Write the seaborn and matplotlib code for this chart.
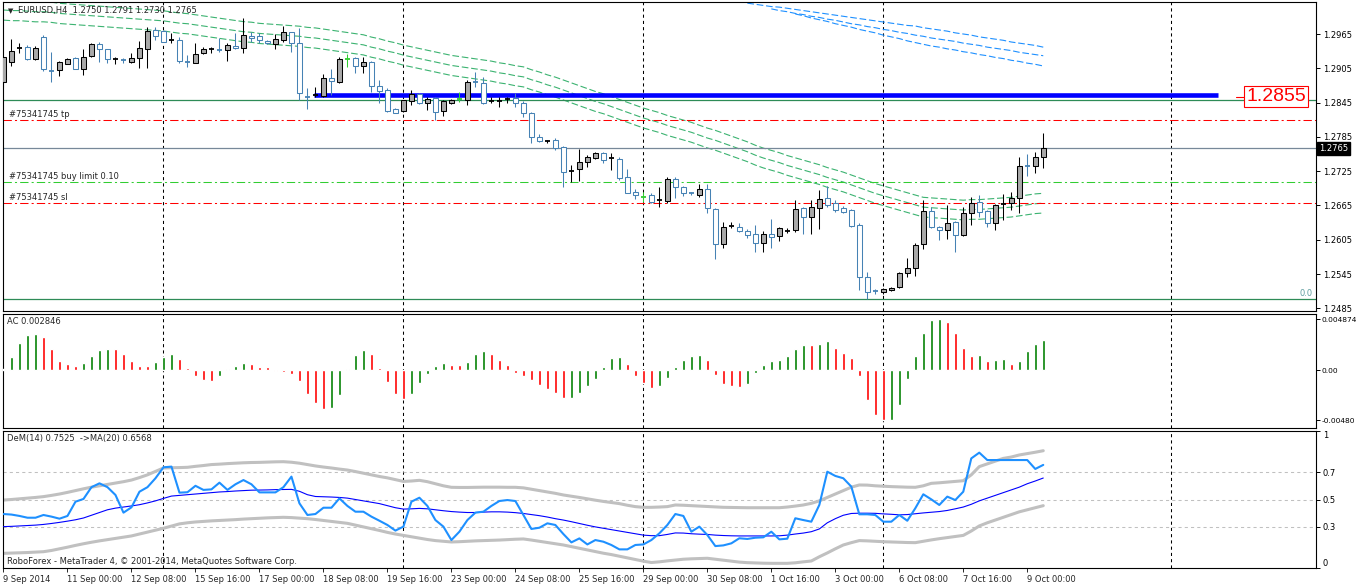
import numpy as np
import pandas as pd
import seaborn as sns
import matplotlib.pyplot as plt

# ---------------- data (EURUSD H4, one value per bar) ----------------
bar_idx = list(range(131))

opens = [1.2881, 1.2916, 1.2939, 1.2942, 1.2921, 1.2960, 1.2901, 1.2902, 1.2913, 1.2923,
         1.2904, 1.2926, 1.2948, 1.2938, 1.2920, 1.2921, 1.2916, 1.2923, 1.2939, 1.2972,
         1.2970, 1.2954, 1.2955, 1.2917, 1.2914, 1.2932, 1.2937, 1.2938, 1.2937, 1.2944,
         1.2940, 1.2962, 1.2962, 1.2953, 1.2948, 1.2955, 1.2968, 1.2949, 1.2856, 1.2857,
         1.2856, 1.2888, 1.2881, 1.2921, 1.2923, 1.2909, 1.2916, 1.2874, 1.2867, 1.2834,
         1.2830, 1.2848, 1.2860, 1.2844, 1.2853, 1.2830, 1.2844, 1.2851, 1.2849, 1.2882,
         1.2879, 1.2847, 1.2847, 1.2850, 1.2853, 1.2844, 1.2827, 1.2785, 1.2777, 1.2780,
         1.2767, 1.2724, 1.2729, 1.2741, 1.2748, 1.2757, 1.2747, 1.2746, 1.2715, 1.2689,
         1.2680, 1.2683, 1.2674, 1.2673, 1.2711, 1.2697, 1.2688, 1.2683, 1.2694, 1.2659,
         1.2598, 1.2628, 1.2627, 1.2620, 1.2615, 1.2599, 1.2615, 1.2611, 1.2620, 1.2622,
         1.2661, 1.2645, 1.2661, 1.2678, 1.2669, 1.2661, 1.2657, 1.2631, 1.2540, 1.2516,
         1.2514, 1.2517, 1.2522, 1.2547, 1.2555, 1.2598, 1.2655, 1.2627, 1.2622, 1.2636,
         1.2613, 1.2652, 1.2671, 1.2655, 1.2634, 1.2667, 1.2669, 1.2678, 1.2735, 1.2734,
         1.2750]
highs = [1.2925, 1.2956, 1.2949, 1.2946, 1.2944, 1.2963, 1.2934, 1.2918, 1.2923, 1.2924,
         1.2939, 1.2950, 1.2951, 1.2939, 1.2925, 1.2923, 1.2932, 1.2953, 1.2977, 1.2977,
         1.2972, 1.2967, 1.2960, 1.2928, 1.2949, 1.2942, 1.2942, 1.2958, 1.2949, 1.2967,
         1.2993, 1.2968, 1.2967, 1.2955, 1.2965, 1.2979, 1.2969, 1.2976, 1.2871, 1.2872,
         1.2895, 1.2904, 1.2925, 1.2930, 1.2925, 1.2925, 1.2917, 1.2884, 1.2871, 1.2836,
         1.2850, 1.2867, 1.2862, 1.2855, 1.2854, 1.2849, 1.2851, 1.2864, 1.2885, 1.2898,
         1.2890, 1.2855, 1.2855, 1.2855, 1.2862, 1.2848, 1.2828, 1.2790, 1.2780, 1.2783,
         1.2769, 1.2736, 1.2764, 1.2753, 1.2759, 1.2759, 1.2757, 1.2750, 1.2729, 1.2694,
         1.2689, 1.2687, 1.2697, 1.2715, 1.2715, 1.2699, 1.2689, 1.2703, 1.2703, 1.2661,
         1.2636, 1.2636, 1.2634, 1.2624, 1.2631, 1.2620, 1.2641, 1.2627, 1.2626, 1.2674,
         1.2662, 1.2674, 1.2692, 1.2699, 1.2674, 1.2664, 1.2658, 1.2634, 1.2549, 1.2519,
         1.2521, 1.2522, 1.2549, 1.2573, 1.2599, 1.2674, 1.2662, 1.2629, 1.2666, 1.2637,
         1.2662, 1.2680, 1.2683, 1.2657, 1.2667, 1.2685, 1.2689, 1.2750, 1.2755, 1.2759,
         1.2791]
lows = [1.2872, 1.2909, 1.2932, 1.2920, 1.2920, 1.2900, 1.2881, 1.2892, 1.2912, 1.2903,
        1.2893, 1.2925, 1.2916, 1.2914, 1.2913, 1.2914, 1.2914, 1.2906, 1.2906, 1.2955,
        1.2951, 1.2949, 1.2914, 1.2907, 1.2914, 1.2930, 1.2932, 1.2934, 1.2918, 1.2939,
        1.2932, 1.2951, 1.2949, 1.2947, 1.2939, 1.2951, 1.2934, 1.2850, 1.2834, 1.2855,
        1.2855, 1.2858, 1.2880, 1.2907, 1.2897, 1.2897, 1.2863, 1.2844, 1.2829, 1.2826,
        1.2829, 1.2841, 1.2842, 1.2832, 1.2815, 1.2821, 1.2842, 1.2846, 1.2841, 1.2872,
        1.2843, 1.2844, 1.2837, 1.2844, 1.2837, 1.2820, 1.2774, 1.2776, 1.2774, 1.2762,
        1.2697, 1.2706, 1.2708, 1.2732, 1.2747, 1.2739, 1.2727, 1.2710, 1.2686, 1.2676,
        1.2671, 1.2670, 1.2662, 1.2669, 1.2678, 1.2681, 1.2683, 1.2680, 1.2652, 1.2571,
        1.2590, 1.2625, 1.2618, 1.2608, 1.2583, 1.2583, 1.2590, 1.2603, 1.2617, 1.2618,
        1.2615, 1.2615, 1.2624, 1.2662, 1.2653, 1.2652, 1.2627, 1.2517, 1.2501, 1.2510,
        1.2510, 1.2515, 1.2521, 1.2540, 1.2541, 1.2589, 1.2625, 1.2604, 1.2606, 1.2583,
        1.2612, 1.2631, 1.2645, 1.2627, 1.2622, 1.2640, 1.2657, 1.2652, 1.2716, 1.2722,
        1.2730]
closes = [1.2925, 1.2935, 1.2940, 1.2921, 1.2940, 1.2904, 1.2900, 1.2916, 1.2921, 1.2904,
          1.2925, 1.2948, 1.2939, 1.2921, 1.2921, 1.2920, 1.2923, 1.2940, 1.2970, 1.2962,
          1.2951, 1.2955, 1.2918, 1.2916, 1.2930, 1.2939, 1.2938, 1.2937, 1.2946, 1.2940,
          1.2963, 1.2958, 1.2955, 1.2949, 1.2956, 1.2968, 1.2949, 1.2862, 1.2855, 1.2858,
          1.2888, 1.2883, 1.2921, 1.2921, 1.2909, 1.2916, 1.2874, 1.2865, 1.2830, 1.2827,
          1.2849, 1.2860, 1.2844, 1.2851, 1.2829, 1.2848, 1.2849, 1.2851, 1.2881, 1.2881,
          1.2844, 1.2848, 1.2848, 1.2851, 1.2844, 1.2827, 1.2785, 1.2778, 1.2778, 1.2766,
          1.2724, 1.2725, 1.2741, 1.2750, 1.2757, 1.2745, 1.2748, 1.2713, 1.2687, 1.2683,
          1.2680, 1.2671, 1.2675, 1.2711, 1.2697, 1.2687, 1.2687, 1.2694, 1.2661, 1.2598,
          1.2627, 1.2629, 1.2620, 1.2613, 1.2599, 1.2615, 1.2610, 1.2625, 1.2621, 1.2659,
          1.2645, 1.2662, 1.2676, 1.2666, 1.2657, 1.2654, 1.2629, 1.2540, 1.2514, 1.2515,
          1.2519, 1.2521, 1.2547, 1.2555, 1.2596, 1.2655, 1.2627, 1.2622, 1.2634, 1.2613,
          1.2652, 1.2669, 1.2654, 1.2634, 1.2666, 1.2668, 1.2678, 1.2734, 1.2734, 1.2750,
          1.2765]

# envelope (green) middle line
env_mid = [1.3007, 1.3006, 1.3006, 1.3005, 1.3004, 1.3004, 1.3003, 1.3001, 1.3000, 1.2999,
           1.2998, 1.2997, 1.2996, 1.2995, 1.2994, 1.2993, 1.2992, 1.2991, 1.2990, 1.2989,
           1.2988, 1.2986, 1.2984, 1.2983, 1.2981, 1.2979, 1.2977, 1.2975, 1.2973, 1.2971,
           1.2969, 1.2968, 1.2966, 1.2965, 1.2964, 1.2963, 1.2962, 1.2961, 1.2959, 1.2958,
           1.2956, 1.2954, 1.2952, 1.2950, 1.2948, 1.2946, 1.2942, 1.2939, 1.2935, 1.2932,
           1.2928, 1.2925, 1.2922, 1.2919, 1.2916, 1.2913, 1.2910, 1.2908, 1.2906, 1.2904,
           1.2902, 1.2900, 1.2897, 1.2895, 1.2892, 1.2890, 1.2885, 1.2881, 1.2876, 1.2872,
           1.2867, 1.2862, 1.2857, 1.2852, 1.2847, 1.2843, 1.2838, 1.2833, 1.2828, 1.2823,
           1.2818, 1.2814, 1.2810, 1.2805, 1.2801, 1.2797, 1.2793, 1.2788, 1.2783, 1.2779,
           1.2774, 1.2769, 1.2764, 1.2759, 1.2753, 1.2748, 1.2744, 1.2740, 1.2735, 1.2731,
           1.2727, 1.2723, 1.2719, 1.2714, 1.2710, 1.2706, 1.2701, 1.2696, 1.2691, 1.2686,
           1.2682, 1.2678, 1.2674, 1.2670, 1.2666, 1.2662, 1.2661, 1.2660, 1.2659, 1.2658,
           1.2657, 1.2658, 1.2658, 1.2659, 1.2660, 1.2661, 1.2662, 1.2664, 1.2666, 1.2668,
           1.2669]
env_dev = 0.00136

# blue channel (three lines, each starting at its own bar)
blue_top_start = 93
blue_top = [1.3019, 1.3017, 1.3015, 1.3013, 1.3012, 1.3010, 1.3008, 1.3006, 1.3004, 1.3002,
            1.3000, 1.2998, 1.2996, 1.2994, 1.2992, 1.2990, 1.2988, 1.2986, 1.2984, 1.2982,
            1.2980, 1.2979, 1.2976, 1.2974, 1.2972, 1.2970, 1.2967, 1.2965, 1.2963, 1.2960,
            1.2958, 1.2956, 1.2954, 1.2951, 1.2949, 1.2947, 1.2945, 1.2942]
blue_mid_start = 96
blue_mid = [1.3009, 1.3006, 1.3004, 1.3001, 1.2999, 1.2996, 1.2994, 1.2991, 1.2989, 1.2986,
            1.2983, 1.2981, 1.2978, 1.2976, 1.2973, 1.2971, 1.2968, 1.2966, 1.2963, 1.2961,
            1.2958, 1.2956, 1.2954, 1.2952, 1.2949, 1.2947, 1.2945, 1.2942, 1.2940, 1.2938,
            1.2936, 1.2933, 1.2931, 1.2929, 1.2927]
blue_low_start = 99
blue_low = [1.3000, 1.2997, 1.2993, 1.2990, 1.2987, 1.2983, 1.2980, 1.2977, 1.2973, 1.2970,
            1.2967, 1.2963, 1.2960, 1.2957, 1.2953, 1.2950, 1.2947, 1.2944, 1.2942, 1.2939,
            1.2937, 1.2934, 1.2932, 1.2929, 1.2927, 1.2924, 1.2922, 1.2919, 1.2917, 1.2914,
            1.2912, 1.2909]

# Accelerator oscillator
ac_values = [0.0001, 0.00128, 0.00262, 0.00336, 0.00346, 0.0032, 0.00198, 0.00086, 0.00058, 0.00038,
             0.0007, 0.00134, 0.00195, 0.00201, 0.00198, 0.00154, 0.00086, 0.00038, 0.00036, 0.0008,
             0.00128, 0.00154, 0.00106, 0.00022, -0.00054, -0.00096, -0.00102, -0.00054, 0.00013, 0.00038,
             0.0007, 0.00058, 0.00032, 0.0003, -0.00006, -0.00016, -0.00038, -0.00106, -0.00234, -0.00314,
             -0.00374, -0.00362, -0.0024, 0.00013, 0.00144, 0.00192, 0.00154, 0.00022, -0.00118, -0.0023,
             -0.00278, -0.0023, -0.00122, -0.00038, 0.00038, 0.0007, 0.00048, 0.00045, 0.0008, 0.00154,
             0.00186, 0.00154, 0.00096, 0.00048, -0.00026, -0.00054, -0.00096, -0.00144, -0.00186, -0.00224,
             -0.00266, -0.00264, -0.00218, -0.00154, -0.00086, 0.00026, 0.00112, 0.00122, 0.00054, -0.00058,
             -0.00128, -0.0017, -0.0015, -0.00074, 0.00026, 0.001, 0.00134, 0.0014, 0.001, -0.0005,
             -0.00138, -0.00154, -0.00163, -0.00138, -0.0003, 0.00045, 0.00083, 0.00093, 0.0013, 0.002,
             0.00237, 0.00235, 0.0025, 0.00275, 0.00214, 0.00166, 0.00115, -0.00058, -0.00291, -0.0043,
             -0.0048, -0.00475, -0.0033, -0.0009, 0.0013, 0.0035, 0.0048, 0.004874, 0.00454, 0.0035,
             0.00211, 0.0013, 0.0014, 0.00083, 0.001, 0.00102, 0.0006, 0.00083, 0.0018, 0.0025,
             0.002846]

# DeMarker(14), its MA(20) and envelope bands
dem_values = [0.394, 0.39, 0.38, 0.367, 0.367, 0.387, 0.375, 0.36, 0.38, 0.484,
              0.504, 0.59, 0.618, 0.59, 0.533, 0.404, 0.443, 0.557, 0.59, 0.655,
              0.735, 0.74, 0.55, 0.553, 0.6, 0.57, 0.574, 0.623, 0.57, 0.611,
              0.642, 0.611, 0.552, 0.552, 0.552, 0.59, 0.667, 0.472, 0.387, 0.394,
              0.44, 0.44, 0.508, 0.453, 0.411, 0.411, 0.375, 0.345, 0.314, 0.273,
              0.302, 0.484, 0.513, 0.453, 0.35, 0.302, 0.204, 0.265, 0.35, 0.404,
              0.411, 0.453, 0.489, 0.496, 0.489, 0.387, 0.285, 0.294, 0.326, 0.314,
              0.248, 0.187, 0.216, 0.172, 0.204, 0.192, 0.168, 0.136, 0.136, 0.168,
              0.172, 0.204, 0.253, 0.314, 0.394, 0.38, 0.265, 0.302, 0.241, 0.16,
              0.165, 0.18, 0.217, 0.212, 0.221, 0.224, 0.265, 0.209, 0.214, 0.363,
              0.35, 0.338, 0.46, 0.703, 0.672, 0.655, 0.594, 0.392, 0.392, 0.387,
              0.338, 0.338, 0.387, 0.345, 0.436, 0.538, 0.501, 0.46, 0.521, 0.496,
              0.557, 0.8, 0.842, 0.788, 0.788, 0.788, 0.788, 0.788, 0.788, 0.723,
              0.7525]
dem_ma = [0.302, 0.304, 0.307, 0.310, 0.313, 0.318, 0.325, 0.333, 0.342, 0.352,
          0.365, 0.385, 0.405, 0.425, 0.437, 0.445, 0.453, 0.462, 0.475, 0.49,
          0.508, 0.525, 0.53, 0.535, 0.54, 0.545, 0.55, 0.555, 0.558, 0.562,
          0.565, 0.568, 0.569, 0.57, 0.572, 0.573, 0.574, 0.56, 0.535, 0.522,
          0.52, 0.518, 0.515, 0.51, 0.5, 0.49, 0.48, 0.47, 0.455, 0.44,
          0.43, 0.432, 0.435, 0.432, 0.425, 0.418, 0.412, 0.408, 0.405, 0.405,
          0.408, 0.41, 0.41, 0.408, 0.404, 0.398, 0.39, 0.382, 0.372, 0.36,
          0.35, 0.338, 0.325, 0.312, 0.3, 0.29, 0.28, 0.27, 0.26, 0.25,
          0.24, 0.236, 0.236, 0.245, 0.256, 0.255, 0.25, 0.247, 0.245, 0.24,
          0.237, 0.235, 0.234, 0.234, 0.234, 0.234, 0.234, 0.235, 0.24, 0.248,
          0.255, 0.265, 0.285, 0.33, 0.36, 0.385, 0.398, 0.4, 0.4, 0.399,
          0.395, 0.392, 0.388, 0.39, 0.396, 0.402, 0.407, 0.412, 0.42, 0.432,
          0.445, 0.465, 0.49, 0.51, 0.53, 0.55, 0.57, 0.59, 0.615, 0.635,
          0.6568]
dem_upper = [0.496, 0.5, 0.505, 0.51, 0.515, 0.521, 0.53, 0.54, 0.552, 0.565,
             0.578, 0.59, 0.6, 0.61, 0.62, 0.63, 0.642, 0.66, 0.68, 0.705,
             0.73, 0.732, 0.733, 0.735, 0.742, 0.748, 0.755, 0.758, 0.762, 0.765,
             0.768, 0.77, 0.771, 0.773, 0.775, 0.776, 0.772, 0.765, 0.755, 0.745,
             0.737, 0.73, 0.722, 0.715, 0.704, 0.692, 0.68, 0.668, 0.658, 0.645,
             0.632, 0.635, 0.64, 0.63, 0.615, 0.6, 0.589, 0.588, 0.588, 0.589,
             0.59, 0.59, 0.59, 0.589, 0.589, 0.585, 0.575, 0.565, 0.555, 0.545,
             0.533, 0.524, 0.515, 0.505, 0.495, 0.486, 0.478, 0.47, 0.458, 0.448,
             0.443, 0.443, 0.445, 0.448, 0.46, 0.458, 0.455, 0.452, 0.449, 0.446,
             0.443, 0.442, 0.441, 0.44, 0.44, 0.44, 0.44, 0.44, 0.445, 0.452,
             0.46, 0.472, 0.49, 0.515, 0.54, 0.565, 0.59, 0.606, 0.605, 0.6,
             0.597, 0.594, 0.592, 0.59, 0.589, 0.6, 0.618, 0.622, 0.627, 0.632,
             0.637, 0.68, 0.74, 0.76, 0.78, 0.8, 0.81, 0.825, 0.835, 0.845,
             0.856]
dem_lower = [0.107, 0.109, 0.111, 0.113, 0.116, 0.119, 0.128, 0.14, 0.152, 0.165,
             0.177, 0.188, 0.198, 0.207, 0.216, 0.225, 0.234, 0.248, 0.262, 0.276,
             0.29, 0.306, 0.322, 0.33, 0.336, 0.34, 0.344, 0.347, 0.35, 0.353,
             0.357, 0.36, 0.363, 0.366, 0.368, 0.37, 0.368, 0.364, 0.36, 0.354,
             0.347, 0.34, 0.333, 0.326, 0.313, 0.3, 0.287, 0.274, 0.26, 0.248,
             0.238, 0.228, 0.218, 0.208, 0.2, 0.195, 0.19, 0.192, 0.195, 0.198,
             0.2, 0.202, 0.204, 0.207, 0.21, 0.212, 0.204, 0.195, 0.186, 0.177,
             0.168, 0.156, 0.144, 0.132, 0.12, 0.108, 0.098, 0.086, 0.074, 0.062,
             0.05, 0.04, 0.045, 0.052, 0.058, 0.064, 0.067, 0.069, 0.071, 0.064,
             0.057, 0.05, 0.043, 0.039, 0.037, 0.035, 0.034, 0.034, 0.034, 0.038,
             0.045, 0.051, 0.082, 0.11, 0.14, 0.168, 0.185, 0.2, 0.198, 0.195,
             0.192, 0.19, 0.188, 0.186, 0.185, 0.195, 0.205, 0.214, 0.222, 0.23,
             0.238, 0.27, 0.307, 0.33, 0.35, 0.37, 0.39, 0.41, 0.425, 0.44,
             0.455]
dem_levels = [0.3, 0.5, 0.7]

# axis labels
date_ticks = list(range(0, 129, 8))
date_labels = ["9 Sep 2014", "11 Sep 00:00", "12 Sep 08:00", "15 Sep 16:00", "17 Sep 00:00",
               "18 Sep 08:00", "19 Sep 16:00", "23 Sep 00:00", "24 Sep 08:00", "25 Sep 16:00",
               "29 Sep 00:00", "30 Sep 08:00", "1 Oct 16:00", "3 Oct 00:00", "6 Oct 08:00",
               "7 Oct 16:00", "9 Oct 00:00"]
week_starts = [20, 50, 80, 110, 146]
price_ticks = [1.2485, 1.2545, 1.2605, 1.2665, 1.2725, 1.2785, 1.2845, 1.2905, 1.2965]
ac_ticks = [-0.0048, 0.0, 0.004874]
ac_tick_labels = ["-0.00480", "0.00", "0.004874"]
dem_ticks = [0, 0.3, 0.5, 0.7, 1]
dem_tick_labels = ["0", "0.3", "0.5", "0.7", "1"]

# chart objects
order_id = "#75341745"
tp_level = 1.2814
buy_limit = 1.2706
sl_level = 1.2670
bid_price = 1.2765
trend_level = 1.2858
trend_from, trend_to = 38.8, 151.9
fibo_100 = 1.2850
fibo_0 = 1.2501
price_label = 1.2855
price_label_bar = 159.1

# ---------------- styling ----------------
sns.set_style("white")
plt.rcParams['font.family'] = ['DejaVu Sans']
FS = 6

W, H = 1356, 587
fig = plt.figure(figsize=(W / 100, H / 100), dpi=100)


def px_axes(top, bottom, left=2.7, right=1316):
    return fig.add_axes([left / W, 1 - bottom / H, (right - left) / W, (bottom - top) / H])


ax1 = px_axes(2, 311)
ax2 = px_axes(314, 428)
ax3 = px_axes(431, 568)

XLIM = (-0.1, 164.1)
for ax in (ax1, ax2, ax3):
    ax.set_xlim(*XLIM)
    for sp in ax.spines.values():
        sp.set_color("black")
        sp.set_linewidth(0.8)
    for x in week_starts:
        ax.axvline(x, color="black", lw=0.75, ls=(0, (3, 3)), zorder=1)
    ax.yaxis.tick_right()
    ax.tick_params(axis="y", direction="out", length=3, width=0.7, pad=2,
                   labelsize=FS, colors="black", right=True, left=False)
    ax.set_facecolor("white")

# ---------------- price panel ----------------
df = pd.DataFrame({"bar": bar_idx, "open": opens, "high": highs, "low": lows, "close": closes})
df["diff"] = (df["close"] - df["open"]).round(5)
df["doji"] = df["diff"].abs() < 0.00015
bull_col, bear_col = "black", "#4682b4"
df["edge"] = np.where(df["diff"] > 0, bull_col, bear_col)
df.loc[df["doji"] & (df["diff"] == 0), "edge"] = "#32cd32"

# envelopes
env = pd.DataFrame({"bar": bar_idx, "mid": env_mid})
for k in (-1, 0, 1):
    sns.lineplot(x=env["bar"], y=env["mid"] * (1 + k * env_dev), ax=ax1, color="#3cb371",
                 lw=0.8, ls=(0, (6, 2.5)), legend=False, zorder=2)
for start, line in [(blue_top_start, blue_top), (blue_mid_start, blue_mid),
                    (blue_low_start, blue_low)]:
    sns.lineplot(x=list(range(start, start + len(line))), y=line, ax=ax1,
                 color="#1e90ff", lw=0.8, ls=(0, (6, 2.5)), legend=False, zorder=2)

# horizontal objects
ax1.axhline(fibo_100, color="#2e8b57", lw=0.9, zorder=2)
ax1.axhline(fibo_0, color="#2e8b57", lw=0.9, zorder=2)
ax1.axhline(bid_price, color="#778899", lw=0.9, zorder=2)
ax1.axhline(tp_level, color="#ff0000", lw=0.75, ls=(0, (8, 3, 2, 3)), zorder=2)
ax1.axhline(sl_level, color="#ff0000", lw=0.75, ls=(0, (8, 3, 2, 3)), zorder=2)
ax1.axhline(buy_limit, color="#32cd32", lw=0.75, ls=(0, (8, 3, 2, 3)), zorder=2)
ax1.plot([trend_from, trend_to], [trend_level, trend_level], color="#0000ff", lw=3.3,
         solid_capstyle="butt", zorder=3)

# candles
ax1.vlines(df["bar"], df["low"], df["high"], colors=df["edge"], lw=0.75, zorder=4)
body = df[~df["doji"]]
ax1.bar(body["bar"], (body["close"] - body["open"]).abs(),
        bottom=body[["open", "close"]].min(axis=1), width=0.56,
        color=np.where(body["diff"] > 0, "#a9a9a9", "white"),
        edgecolor=body["edge"], linewidth=0.75, zorder=5)
dj = df[df["doji"]]
ax1.hlines(dj["close"], dj["bar"] - 0.32, dj["bar"] + 0.32, colors=dj["edge"], lw=1.3, zorder=5)

ax1.set_ylim(1.24803, 1.3021)
ax1.set_yticks(price_ticks)
ax1.set_yticklabels([f"{v:.4f}" for v in price_ticks])
ax1.set_xticks([])

ytr = ax1.get_yaxis_transform()
ax1.annotate("\u25bc", xy=(0, 1), xycoords="axes fraction", xytext=(5, -9),
             textcoords="offset pixels", fontsize=5, va="center")
ax1.annotate("EURUSD,H4  1.2750 1.2791 1.2730 1.2765", xy=(0, 1), xycoords="axes fraction",
             xytext=(15, -9), textcoords="offset pixels", fontsize=FS, va="center")
for lvl, txt in [(tp_level, order_id + " tp"), (buy_limit, order_id + " buy limit 0.10"),
                 (sl_level, order_id + " sl")]:
    ax1.annotate(txt, xy=(0, lvl), xycoords=ytr, xytext=(6, 3), textcoords="offset pixels",
                 fontsize=FS, va="baseline")
ax1.annotate("0.0", xy=(1, fibo_0), xycoords=ytr, xytext=(-3, 3), textcoords="offset pixels",
             fontsize=FS, ha="right", va="baseline", color="#5f9ea0")
ax1.annotate(f"{bid_price:.4f}", xy=(1, bid_price), xycoords=ytr, xytext=(3, 0),
             textcoords="offset pixels", fontsize=FS, ha="left", va="center", color="white",
             annotation_clip=False,
             bbox=dict(boxstyle="square,pad=0.25", fc="black", ec="black"))
ax1.plot([price_label_bar - 5.0, price_label_bar - 3.9], [price_label, price_label],
         color="#ff0000", lw=0.8, zorder=6)
ax1.text(price_label_bar, price_label, f"{price_label:.4f}", color="#ff0000", fontsize=14,
         family=["Liberation Sans", "DejaVu Sans"],
         ha="center", va="center", zorder=7,
         bbox=dict(boxstyle="square,pad=0.1", fc="white", ec="#ff0000", lw=0.8))

# ---------------- AC panel ----------------
ac = pd.Series(ac_values)
ac_colors = np.where(ac.diff().fillna(1) > 0, "#008000", "#ff0000")
ax2.bar(bar_idx, ac_values, width=0.36, color=ac_colors, zorder=3)
ax2.set_ylim(-0.005543, 0.005352)
ax2.set_yticks(ac_ticks)
ax2.set_yticklabels(ac_tick_labels)
ax2.tick_params(axis="y", labelsize=5.4, pad=1)
ax2.set_xticks([])
ax2.annotate("AC 0.002846", xy=(0, 1), xycoords="axes fraction", xytext=(4, -7),
             textcoords="offset pixels", fontsize=FS, va="center")

# ---------------- DeMarker panel ----------------
for lvl in dem_levels:
    ax3.axhline(lvl, color="#c0c0c0", lw=0.75, ls=(0, (3, 3)), zorder=1)
sns.lineplot(x=bar_idx, y=dem_upper, ax=ax3, color="#c0c0c0", lw=2.2, legend=False, zorder=2)
sns.lineplot(x=bar_idx, y=dem_lower, ax=ax3, color="#c0c0c0", lw=2.2, legend=False, zorder=2)
sns.lineplot(x=bar_idx, y=dem_ma, ax=ax3, color="#0000ff", lw=0.8, legend=False, zorder=3)
sns.lineplot(x=bar_idx, y=dem_values, ax=ax3, color="#1e90ff", lw=1.5, legend=False, zorder=4)
ax3.set_ylim(0, 1)
ax3.set_yticks(dem_ticks)
ax3.set_yticklabels(dem_tick_labels)
ylabels = ax3.get_yticklabels()
ylabels[0].set_va("bottom")
ylabels[-1].set_va("top")
ax3.set_xticks(date_ticks)
ax3.set_xticklabels(date_labels)
ax3.tick_params(axis="x", direction="out", length=3, width=0.7, pad=2, labelsize=FS,
                bottom=True)
for lab in ax3.get_xticklabels():
    lab.set_ha("left")
for ax in (ax1, ax2, ax3):
    ax.set_xlabel("")
    ax.set_ylabel("")
ax3.annotate("DeM(14) 0.7525  ->MA(20) 0.6568", xy=(0, 1), xycoords="axes fraction",
             xytext=(4, -7), textcoords="offset pixels", fontsize=FS, va="center")
ax3.annotate("RoboForex - MetaTrader 4, \u00a9 2001-2014, MetaQuotes Software Corp.",
             xy=(0, 0), xycoords="axes fraction", xytext=(4, 7), textcoords="offset pixels",
             fontsize=FS, va="center")

fig.savefig("out.png", dpi=100)
